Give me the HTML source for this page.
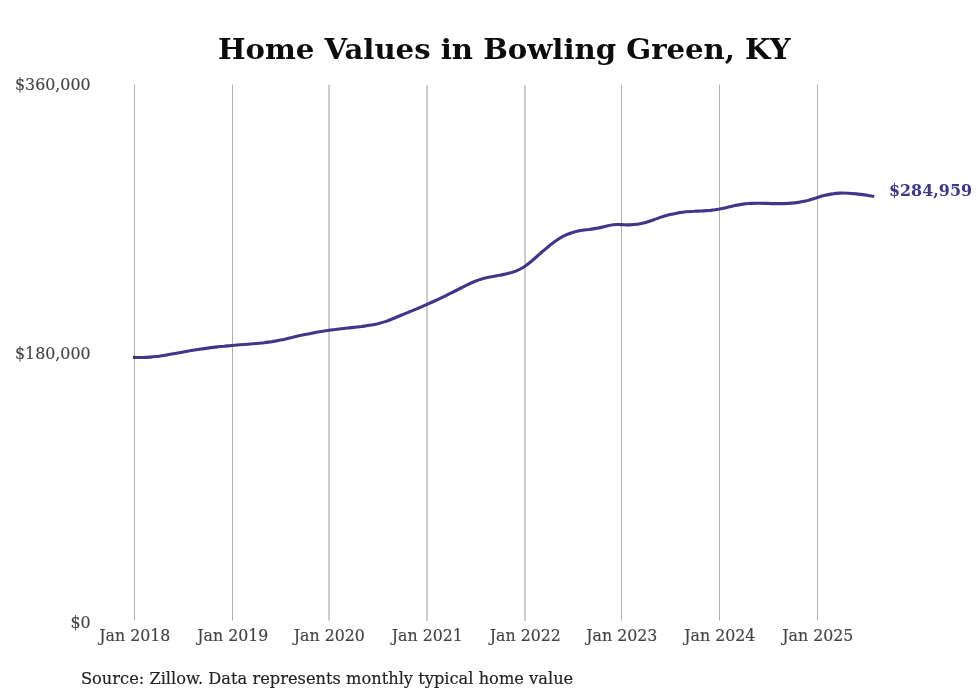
<!DOCTYPE html>
<html><head><meta charset="utf-8"><title>Home Values in Bowling Green, KY</title>
<style>
html,body{margin:0;padding:0;background:#fff;}
svg{display:block;}
text{font-family:"DejaVu Serif","Liberation Serif",serif;}
.t{font-weight:bold;fill:#0c0c0c;}
.a{fill:#444;stroke:#444;stroke-width:0.15px;}
.g line{stroke:#b2b2b2;stroke-width:1;}
.v{font-weight:bold;fill:#403788;}
.s{fill:#222;stroke:#222;stroke-width:0.15px;}
</style></head><body>
<svg width="980" height="699" viewBox="0 0 980 699">
<rect width="980" height="699" fill="#fff"/>
<text class="t" transform="translate(504.2 59.2) scale(1 0.950)" font-size="29.17" text-anchor="middle">Home Values in Bowling Green, KY</text>

<g class="g">
<line x1="134.5" y1="84.8" x2="134.5" y2="620.7"/>
<line x1="232.5" y1="84.8" x2="232.5" y2="620.7"/>
<line x1="329.0" y1="84.8" x2="329.0" y2="620.7" style="stroke-width:1.3px"/>
<line x1="427.0" y1="84.8" x2="427.0" y2="620.7" style="stroke-width:1.3px"/>
<line x1="525.0" y1="84.8" x2="525.0" y2="620.7" style="stroke-width:1.3px"/>
<line x1="621.5" y1="84.8" x2="621.5" y2="620.7"/>
<line x1="719.5" y1="84.8" x2="719.5" y2="620.7"/>
<line x1="817.5" y1="84.8" x2="817.5" y2="620.7"/>
</g>
<text class="a" transform="translate(90.6 90.4) scale(1 1.040)" font-size="15.85" text-anchor="end">$360,000</text>
<text class="a" transform="translate(90.6 358.5) scale(1 1.040)" font-size="15.85" text-anchor="end">$180,000</text>
<text class="a" transform="translate(90.6 628.4) scale(1 1.040)" font-size="15.85" text-anchor="end">$0</text>

<text class="a" transform="translate(134.8 640.5) scale(1 1.090)" font-size="15.80" text-anchor="middle">Jan 2018</text>
<text class="a" transform="translate(232.8 640.5) scale(1 1.090)" font-size="15.80" text-anchor="middle">Jan 2019</text>
<text class="a" transform="translate(329.3 640.5) scale(1 1.090)" font-size="15.80" text-anchor="middle">Jan 2020</text>
<text class="a" transform="translate(427.3 640.5) scale(1 1.090)" font-size="15.80" text-anchor="middle">Jan 2021</text>
<text class="a" transform="translate(525.3 640.5) scale(1 1.090)" font-size="15.80" text-anchor="middle">Jan 2022</text>
<text class="a" transform="translate(621.8 640.5) scale(1 1.090)" font-size="15.80" text-anchor="middle">Jan 2023</text>
<text class="a" transform="translate(719.8 640.5) scale(1 1.090)" font-size="15.80" text-anchor="middle">Jan 2024</text>
<text class="a" transform="translate(817.8 640.5) scale(1 1.090)" font-size="15.80" text-anchor="middle">Jan 2025</text>

<path d="M134.5 357.4 C135.9 357.4 139.9 357.6 142.6 357.5 C145.3 357.5 148.0 357.3 150.7 357.1 C153.4 356.9 156.1 356.5 158.8 356.2 C161.5 355.8 164.2 355.4 166.9 354.9 C169.7 354.5 172.4 354.0 175.1 353.5 C177.8 353.0 180.5 352.5 183.2 352.0 C185.9 351.5 188.6 351.0 191.3 350.5 C194.0 350.0 196.7 349.6 199.4 349.2 C202.1 348.8 204.8 348.4 207.5 348.1 C210.2 347.7 212.9 347.4 215.6 347.1 C218.3 346.8 221.0 346.5 223.7 346.3 C226.4 346.0 229.1 345.8 231.8 345.5 C234.5 345.3 237.3 345.1 240.0 344.8 C242.7 344.6 245.4 344.4 248.1 344.2 C250.8 344.0 253.5 343.8 256.2 343.5 C258.9 343.3 261.6 343.0 264.3 342.7 C267.0 342.3 269.7 342.0 272.4 341.6 C275.1 341.1 277.8 340.7 280.5 340.1 C283.2 339.6 285.9 338.9 288.6 338.3 C291.3 337.7 294.0 337.0 296.7 336.3 C299.4 335.7 302.1 335.1 304.9 334.5 C307.6 333.9 310.3 333.4 313.0 332.9 C315.7 332.4 318.4 331.9 321.1 331.5 C323.8 331.1 326.5 330.7 329.2 330.3 C331.9 330.0 334.6 329.6 337.3 329.3 C340.0 329.0 342.7 328.6 345.4 328.3 C348.1 328.0 350.8 327.7 353.5 327.4 C356.2 327.1 358.9 326.8 361.6 326.5 C364.3 326.1 367.0 325.8 369.8 325.3 C372.5 324.8 375.2 324.3 377.9 323.7 C380.6 323.0 383.3 322.3 386.0 321.4 C388.7 320.5 391.4 319.3 394.1 318.2 C396.8 317.1 399.5 315.9 402.2 314.8 C404.9 313.6 407.6 312.6 410.3 311.5 C413.0 310.4 415.7 309.4 418.4 308.2 C421.1 307.1 423.8 305.9 426.5 304.7 C429.2 303.5 431.9 302.3 434.6 301.0 C437.4 299.7 440.1 298.4 442.8 297.1 C445.5 295.8 448.2 294.4 450.9 293.1 C453.6 291.7 456.3 290.3 459.0 289.0 C461.7 287.6 464.4 286.2 467.1 284.9 C469.8 283.6 472.5 282.4 475.2 281.3 C477.9 280.2 480.6 279.3 483.3 278.5 C486.0 277.8 488.7 277.2 491.4 276.7 C494.1 276.2 496.8 275.8 499.5 275.3 C502.2 274.7 505.0 274.3 507.7 273.6 C510.4 272.9 513.1 272.2 515.8 271.1 C518.5 270.0 521.2 268.7 523.9 267.0 C526.6 265.3 529.3 263.0 532.0 260.8 C534.7 258.5 537.4 256.0 540.1 253.6 C542.8 251.3 545.5 248.9 548.2 246.7 C550.9 244.5 553.6 242.3 556.3 240.5 C559.0 238.6 561.7 236.9 564.4 235.6 C567.1 234.2 569.8 233.2 572.6 232.4 C575.3 231.6 578.0 231.1 580.7 230.6 C583.4 230.1 586.1 229.8 588.8 229.5 C591.5 229.1 594.2 228.8 596.9 228.3 C599.6 227.8 602.3 227.1 605.0 226.5 C607.7 225.9 610.4 225.0 613.1 224.7 C615.8 224.4 618.5 224.6 621.2 224.6 C623.9 224.7 626.6 224.9 629.3 224.9 C632.0 224.8 634.7 224.7 637.4 224.3 C640.2 223.9 642.9 223.3 645.6 222.5 C648.3 221.7 651.0 220.7 653.7 219.8 C656.4 218.9 659.1 217.8 661.8 216.9 C664.5 216.1 667.2 215.2 669.9 214.6 C672.6 213.9 675.3 213.4 678.0 212.9 C680.7 212.5 683.4 212.1 686.1 211.8 C688.8 211.6 691.5 211.4 694.2 211.3 C696.9 211.1 699.6 211.0 702.3 210.9 C705.1 210.7 707.8 210.6 710.5 210.4 C713.2 210.1 715.9 209.8 718.6 209.3 C721.3 208.9 724.0 208.2 726.7 207.6 C729.4 207.0 732.1 206.2 734.8 205.6 C737.5 205.0 740.2 204.5 742.9 204.1 C745.6 203.7 748.3 203.6 751.0 203.4 C753.7 203.3 756.4 203.3 759.1 203.3 C761.8 203.3 764.5 203.3 767.2 203.4 C769.9 203.5 772.7 203.6 775.4 203.6 C778.1 203.6 780.8 203.7 783.5 203.6 C786.2 203.5 788.9 203.4 791.6 203.1 C794.3 202.9 797.0 202.5 799.7 202.1 C802.4 201.6 805.1 201.0 807.8 200.4 C810.5 199.7 813.2 198.8 815.9 198.1 C818.6 197.3 821.3 196.3 824.0 195.6 C826.7 194.9 829.4 194.3 832.1 193.9 C834.8 193.4 837.5 193.2 840.3 193.1 C843.0 193.0 845.7 193.1 848.4 193.2 C851.1 193.3 853.8 193.6 856.5 193.9 C859.2 194.2 861.9 194.6 864.6 194.9 C867.3 195.3 871.3 196.0 872.7 196.2" fill="none" stroke="#403788" stroke-width="3.1" stroke-linecap="square" stroke-linejoin="round"/>
<text class="v" transform="translate(888.9 195.6) scale(1 1.100)" font-size="15.95" text-anchor="start">$284,959</text>

<text class="s" transform="translate(80.9 683.8) scale(1 1.050)" font-size="16.25" text-anchor="start">Source: Zillow. Data represents monthly typical home value</text>

</svg>
</body></html>
